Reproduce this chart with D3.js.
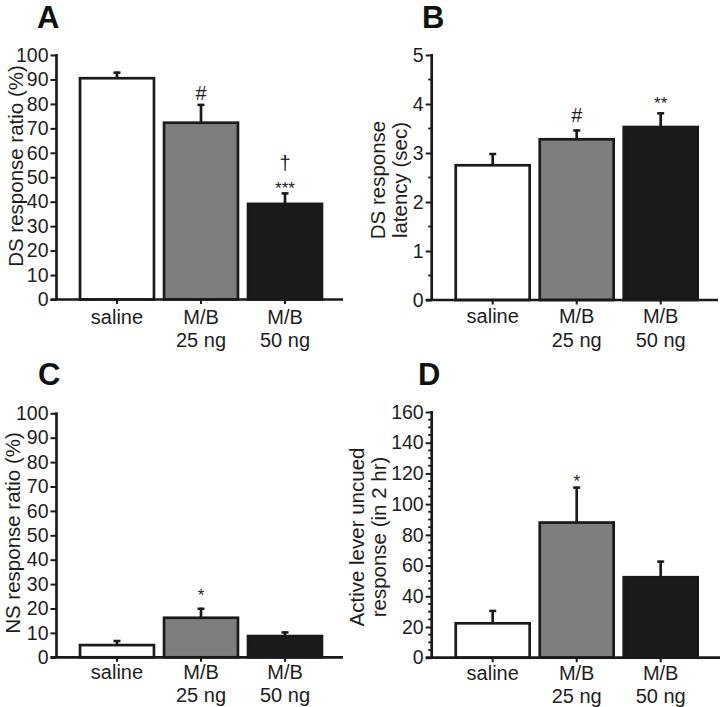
<!DOCTYPE html>
<html>
<head>
<meta charset="utf-8">
<script src="https://cdn.jsdelivr.net/npm/d3@7"></script>
<style>
  html, body { margin: 0; padding: 0; background: #fff; }
  svg { display: block; }
  text { font-family: "Liberation Sans", Arial, Helvetica, sans-serif; fill: #1e1e1e; }
</style>
</head>
<body>
<script>
// ---------------- data ----------------
const categories = ["saline", "M/B 25 ng", "M/B 50 ng"];
const categoryLines = [["saline"], ["M/B", "25 ng"], ["M/B", "50 ng"]];
const barColors = ["#ffffff", "#7e7e7e", "#1b1b1b"];

// Panel A: DS response ratio (%)
const dsRatioMean = [90.5, 72.3, 39.1];
const dsRatioSem  = [2.7, 7.7, 4.7];
const dsRatioTicks = [0, 10, 20, 30, 40, 50, 60, 70, 80, 90, 100];
const dsRatioMarks = [[], ["#"], ["\u2020", "***"]];

// Panel B: DS response latency (sec)
const latencyMean = [2.75, 3.28, 3.53];
const latencySem  = [0.25, 0.20, 0.30];
const latencyTicks = [0, 1, 2, 3, 4, 5];
const latencyMinor = [0.5, 1.5, 2.5, 3.5, 4.5];
const latencyMarks = [[], ["#"], ["**"]];

// Panel C: NS response ratio (%)
const nsRatioMean = [5.0, 16.2, 8.7];
const nsRatioSem  = [2.1, 4.1, 1.9];
const nsRatioTicks = [0, 10, 20, 30, 40, 50, 60, 70, 80, 90, 100];
const nsRatioMarks = [[], ["*"], []];

// Panel D: Active lever uncued response (in 2 hr)
const uncuedMean = [22.4, 88.0, 52.4];
const uncuedSem  = [8.7, 23.4, 10.8];
const uncuedTicks = [0, 20, 40, 60, 80, 100, 120, 140, 160];
const uncuedMinor = [5,10,15,25,30,35,45,50,55,65,70,75,85,90,95,105,110,115,125,130,135,145,150,155];
const uncuedMarks = [[], ["*"], []];

// ---------------- drawing ----------------
const W = 720, H = 707;
const svg = d3.select("body").append("svg").attr("width", W).attr("height", H);
const INK = "#1a1a1a";

function panel(cfg) {
  const g = svg.append("g");
  const y = d3.scaleLinear().domain(cfg.domain).range(cfg.yRange);
  const x = d3.scaleBand().domain(categories).range(cfg.xRange)
              .paddingInner(0.12).paddingOuter(0.06);

  // panel letter
  g.append("text").attr("x", cfg.letterPos[0]).attr("y", cfg.letterPos[1])
    .attr("font-size", 31).attr("font-weight", "bold").style("fill", "#111")
    .text(cfg.letter);

  // bars
  g.selectAll("rect.bar").data(cfg.mean).join("rect")
    .attr("x", (d, i) => x(categories[i]))
    .attr("y", d => y(d))
    .attr("width", x.bandwidth())
    .attr("height", d => y(0) - y(d))
    .attr("fill", (d, i) => barColors[i])
    .attr("stroke", INK).attr("stroke-width", 2.7);

  // error bars (upper only)
  cfg.mean.forEach((m, i) => {
    const cx = x(categories[i]) + x.bandwidth() / 2;
    const top = y(m + cfg.sem[i]);
    g.append("line").attr("x1", cx).attr("x2", cx).attr("y1", y(m)).attr("y2", top)
      .attr("stroke", INK).attr("stroke-width", 2.7);
    g.append("line").attr("x1", cx - 3.5).attr("x2", cx + 3.5).attr("y1", top + 1).attr("y2", top + 1)
      .attr("stroke", INK).attr("stroke-width", 2.5);
    // significance marks
    const marks = cfg.marks[i];
    marks.forEach((mk, k) => {
      const isStar = mk.indexOf("*") >= 0;
      const off = cfg.markOffsets[i][k];
      g.append("text").attr("x", cx).attr("y", top + off)
        .attr("text-anchor", "middle")
        .attr("font-size", isStar ? 17 : 20)
        .style("fill", "#1e1e1e")
        .text(mk);
    });
  });

  // y axis
  const yAxis = d3.axisLeft(y).tickValues(cfg.ticks).tickSize(6).tickPadding(2)
    .tickFormat(d3.format("d"));
  const ya = g.append("g").attr("transform", `translate(${cfg.axisX},0)`).call(yAxis);
  ya.select(".domain").remove();
  ya.selectAll(".tick line").attr("stroke", INK).attr("stroke-width", 2);
  ya.selectAll(".tick text").attr("font-size", 19.5).attr("font-family", "Liberation Sans, Arial, sans-serif")
    .style("fill", "#1e1e1e");
  g.append("line").attr("x1", cfg.axisX).attr("x2", cfg.axisX)
    .attr("y1", y(cfg.domain[1]) - 1).attr("y2", y(0))
    .attr("stroke", INK).attr("stroke-width", 2.7);
  if (cfg.minor) {
    g.selectAll("line.minor").data(cfg.minor).join("line")
      .attr("x1", cfg.axisX - 3.5).attr("x2", cfg.axisX)
      .attr("y1", d => y(d)).attr("y2", d => y(d))
      .attr("stroke", INK).attr("stroke-width", 1.8);
  }

  // x axis
  g.append("line").attr("x1", cfg.axisX - 6).attr("x2", cfg.xEnd)
    .attr("y1", y(0)).attr("y2", y(0)).attr("stroke", INK).attr("stroke-width", 2.7);
  categories.forEach((c, i) => {
    const cx = x(c) + x.bandwidth() / 2;
    g.append("line").attr("x1", cx).attr("x2", cx).attr("y1", y(0)).attr("y2", y(0) + 4.5)
      .attr("stroke", INK).attr("stroke-width", 2);
    const t = g.append("text").attr("text-anchor", "middle").attr("font-size", 20);
    categoryLines[i].forEach((ln, k) => {
      t.append("tspan").attr("x", cx).attr("y", cfg.labelY[k]).text(ln);
    });
  });

  // y title
  const tt = g.append("text").attr("text-anchor", "middle").attr("font-size", 20.5)
    .attr("transform", `translate(${cfg.titlePos[0]},${cfg.titlePos[1]}) rotate(-90)`);
  cfg.title.forEach((ln, k) => {
    tt.append("tspan").attr("x", 0).attr("y", k * 22).text(ln);
  });
}

panel({
  letter: "A", letterPos: [37, 28],
  domain: [0, 100], yRange: [299.5, 55], xRange: [75, 327], axisX: 56.5, xEnd: 343,
  mean: dsRatioMean, sem: dsRatioSem, ticks: dsRatioTicks,
  marks: dsRatioMarks, markOffsets: [[], [-4], [-22, 2]],
  labelY: [324, 347], title: ["DS response ratio (%)"], titlePos: [23, 166]
});
panel({
  letter: "B", letterPos: [422, 28],
  domain: [0, 5], yRange: [300, 55], xRange: [450.7, 702.7], axisX: 431.7, xEnd: 718,
  mean: latencyMean, sem: latencySem, ticks: latencyTicks, minor: latencyMinor,
  marks: latencyMarks, markOffsets: [[], [-7], [-3]],
  labelY: [323, 347], title: ["DS response", "latency (sec)"], titlePos: [385, 180]
});
panel({
  letter: "C", letterPos: [38, 385],
  domain: [0, 100], yRange: [657.3, 413.3], xRange: [75, 327], axisX: 56.5, xEnd: 343,
  mean: nsRatioMean, sem: nsRatioSem, ticks: nsRatioTicks,
  marks: nsRatioMarks, markOffsets: [[], [-7], []],
  labelY: [679, 702], title: ["NS response ratio (%)"], titlePos: [20, 533]
});
panel({
  letter: "D", letterPos: [418, 385],
  domain: [0, 160], yRange: [657.7, 412], xRange: [450.7, 702.7], axisX: 431.7, xEnd: 720,
  mean: uncuedMean, sem: uncuedSem, ticks: uncuedTicks, minor: uncuedMinor,
  marks: uncuedMarks, markOffsets: [[], [0], []],
  labelY: [680, 703], title: ["Active lever uncued", "response (in 2 hr)"], titlePos: [364, 537]
});
</script>
</body>
</html>
